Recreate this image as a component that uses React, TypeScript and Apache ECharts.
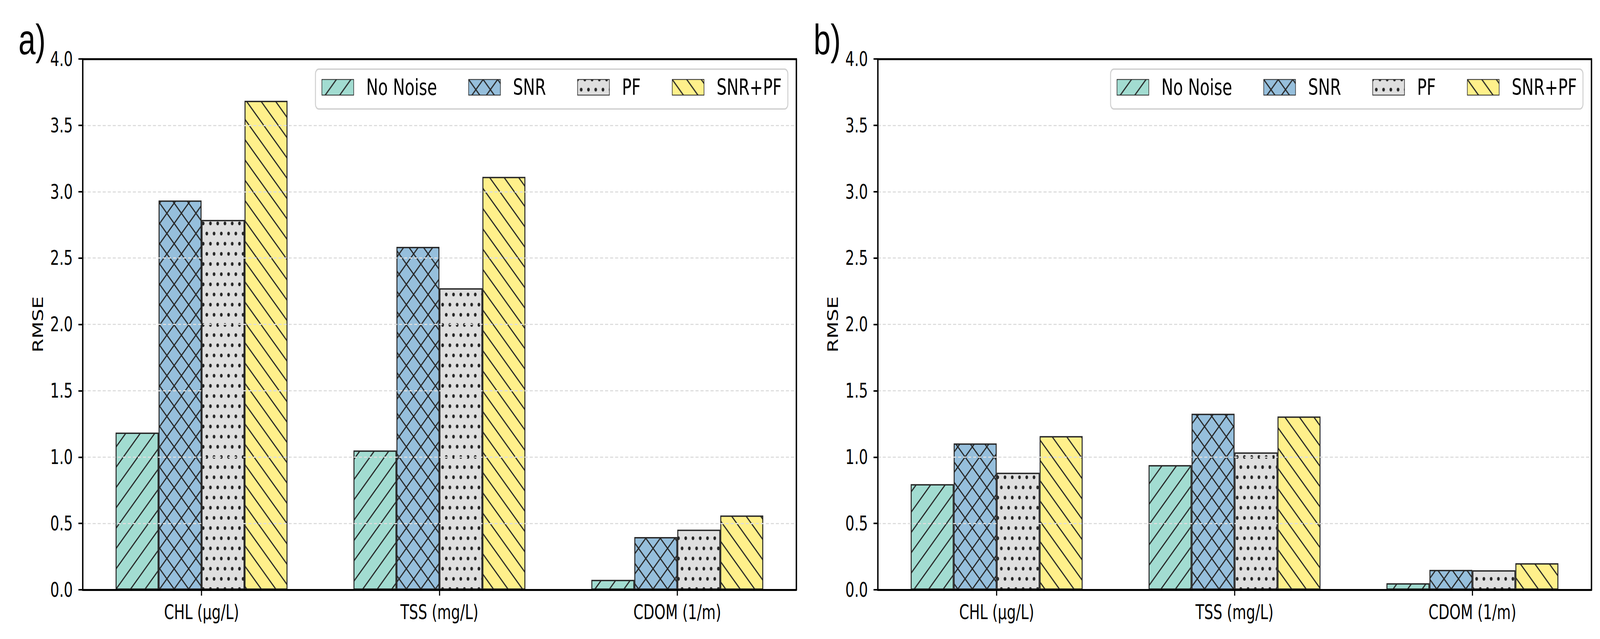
import React, { useEffect, useRef } from "react";
import * as echarts from "echarts";

const CATEGORIES = ["CHL (μg/L)", "TSS (mg/L)", "CDOM (1/m)"];
const SERIES_NAMES = ["No Noise", "SNR", "PF", "SNR+PF"];
const Y_TICKS_MAX = 4;
const Y_TICK_STEP = 0.5;

// Panel a)
const A_NO_NOISE = [1.185, 1.05, 0.075];
const A_SNR = [2.934, 2.584, 0.397];
const A_PF = [2.787, 2.272, 0.453];
const A_SNR_PF = [3.685, 3.112, 0.56];

// Panel b)
const B_NO_NOISE = [0.796, 0.94, 0.049];
const B_SNR = [1.103, 1.327, 0.15];
const B_PF = [0.882, 1.035, 0.147];
const B_SNR_PF = [1.158, 1.306, 0.2];

const PANEL_LABELS = ["a)", "b)"];

const FILLS = ["#a2dcd1", "#96bfdc", "#dfdfdf", "#fff08b"];
const HATCHES = ["fwd", "cross", "dots", "back"];
const EDGE = "#262626";

const DESIGN_W = 5733;
const DESIGN_H = 1636;

function svgUrl(svg: string) {
  return "data:image/svg+xml;charset=utf-8," + encodeURIComponent(svg);
}

function makePattern(bg: string, kind: string) {
  const s = 52;
  const lw = 3.6;
  if (kind === "dots") {
    const w = 26;
    const h = 52;
    const r = 4.8;
    const pts = [
      [0, 0],
      [w, 0],
      [0, h],
      [w, h],
      [w / 2, h / 2],
    ];
    const circles = pts
      .map((p) => `<circle cx="${p[0]}" cy="${p[1]}" r="${r}" fill="${EDGE}"/>`)
      .join("");
    const svg = `<svg xmlns="http://www.w3.org/2000/svg" width="${w}" height="${h}" viewBox="0 0 ${w} ${h}"><rect width="${w}" height="${h}" fill="${bg}"/>${circles}</svg>`;
    return { image: svgUrl(svg), repeat: "repeat", imageWidth: w, imageHeight: h };
  }
  const fwd = `M-6,6 L6,-6 M0,${s} L${s},0 M${s - 6},${s + 6} L${s + 6},${s - 6}`;
  const back = `M0,0 L${s},${s} M-6,${s - 6} L6,${s + 6} M${s - 6},-6 L${s + 6},6`;
  let d = "";
  if (kind === "fwd") d = fwd;
  else if (kind === "back") d = back;
  else d = fwd + " " + back;
  const svg = `<svg xmlns="http://www.w3.org/2000/svg" width="${s}" height="${s}" viewBox="0 0 ${s} ${s}"><rect width="${s}" height="${s}" fill="${bg}"/><path d="${d}" stroke="${EDGE}" stroke-width="${lw}" fill="none"/></svg>`;
  return { image: svgUrl(svg), repeat: "repeat", imageWidth: s, imageHeight: s };
}

const GRID_LEFTS = [296, 3145];
const GRID_TOP = 151;
const GRID_W = 2557;
const GRID_H = 1359;

export default function App() {
  const ref = useRef<HTMLDivElement>(null);
  const vw = typeof window !== "undefined" && window.innerWidth ? window.innerWidth : DESIGN_W;
  const sx = Math.min(1, vw / DESIGN_W);

  useEffect(() => {
    if (!ref.current) return;
    const chart = echarts.init(ref.current, null, { renderer: "svg" });
    const patterns = FILLS.map((c, i) => makePattern(c, HATCHES[i]));
    const panelData = [
      [A_NO_NOISE, A_SNR, A_PF, A_SNR_PF],
      [B_NO_NOISE, B_SNR, B_PF, B_SNR_PF],
    ];
    const font = "DejaVu Sans";
    const spine = { show: true, onZero: false, lineStyle: { color: "#000", width: 5 } };

    const grids = GRID_LEFTS.map((left) => ({
      left,
      top: GRID_TOP,
      width: GRID_W,
      height: GRID_H,
      show: false,
    }));

    const xAxes: any[] = [];
    const yAxes: any[] = [];
    GRID_LEFTS.forEach((_, i) => {
      xAxes.push({
        type: "category",
        gridIndex: i,
        position: "bottom",
        data: CATEGORIES,
        z: 5,
        axisLine: spine,
        axisTick: { show: true, alignWithLabel: true, length: 15, lineStyle: { color: "#000", width: 4 } },
        axisLabel: { fontFamily: font, fontSize: 51, color: "#000", margin: 32 },
        splitLine: { show: false },
      });
      xAxes.push({
        type: "category",
        gridIndex: i,
        position: "top",
        data: CATEGORIES,
        z: 5,
        axisLine: spine,
        axisTick: { show: false },
        axisLabel: { show: false },
        splitLine: { show: false },
      });
      yAxes.push({
        type: "value",
        gridIndex: i,
        position: "left",
        min: 0,
        max: Y_TICKS_MAX,
        interval: Y_TICK_STEP,
        name: "RMSE",
        nameLocation: "middle",
        nameGap: 135,
        nameTextStyle: { fontFamily: font, fontSize: 51, color: "#000" },
        z: 4,
        axisLine: spine,
        axisTick: { show: true, length: 15, lineStyle: { color: "#000", width: 4 } },
        axisLabel: {
          fontFamily: font,
          fontSize: 51,
          color: "#000",
          margin: 35,
          formatter: (v: number) => v.toFixed(1),
        },
        splitLine: { show: true, lineStyle: { color: "#dddddd", width: 3, type: [11, 7] } },
      });
      yAxes.push({
        type: "value",
        gridIndex: i,
        position: "right",
        min: 0,
        max: Y_TICKS_MAX,
        interval: Y_TICK_STEP,
        z: 5,
        axisLine: spine,
        axisTick: { show: false },
        axisLabel: { show: false },
        splitLine: { show: false },
      });
    });

    const series: any[] = [];
    panelData.forEach((sets, p) => {
      sets.forEach((vals, k) => {
        series.push({
          type: "bar",
          name: SERIES_NAMES[k],
          xAxisIndex: p * 2,
          yAxisIndex: p * 2,
          data: vals,
          barWidth: 154,
          barGap: "0%",
          itemStyle: { color: patterns[k], borderColor: EDGE, borderWidth: 3.5 },
          emphasis: { disabled: true },
        });
      });
    });

    const legendRights = [DESIGN_W - 2823, DESIGN_W - 5672];
    const legends = legendRights.map((right) => ({
      data: SERIES_NAMES,
      right,
      top: 177,
      orient: "horizontal",
      icon: "rect",
      itemWidth: 114,
      itemHeight: 40,
      itemGap: 112,
      padding: [18, 22, 27, 22],
      backgroundColor: "#ffffff",
      borderColor: "#d0d0d0",
      borderWidth: 3.5,
      borderRadius: 12,
      selectedMode: false,
      textStyle: { fontFamily: font, fontSize: 57, color: "#000", padding: [0, 0, 0, 40] },
    }));

    const graphics: any[] = PANEL_LABELS.map((t, i) => ({
      type: "text",
      x: GRID_LEFTS[i] - 230,
      y: 100,
      style: {
        text: t,
        fontFamily: "Liberation Sans",
        fontSize: 110,
        fill: "#000",
        verticalAlign: "middle",
        align: "left",
      },
    }));

    chart.setOption({
      animation: false,
      backgroundColor: "#ffffff",
      grid: grids,
      xAxis: xAxes,
      yAxis: yAxes,
      legend: legends,
      series,
      graphic: graphics,
    });
    return () => chart.dispose();
  }, []);

  return (
    <div
      ref={ref}
      style={{
        position: "absolute",
        left: 0,
        top: 0,
        width: DESIGN_W,
        height: DESIGN_H,
        background: "#fff",
        transform: `scaleX(${sx})`,
        transformOrigin: "0 0",
      }}
    />
  );
}
